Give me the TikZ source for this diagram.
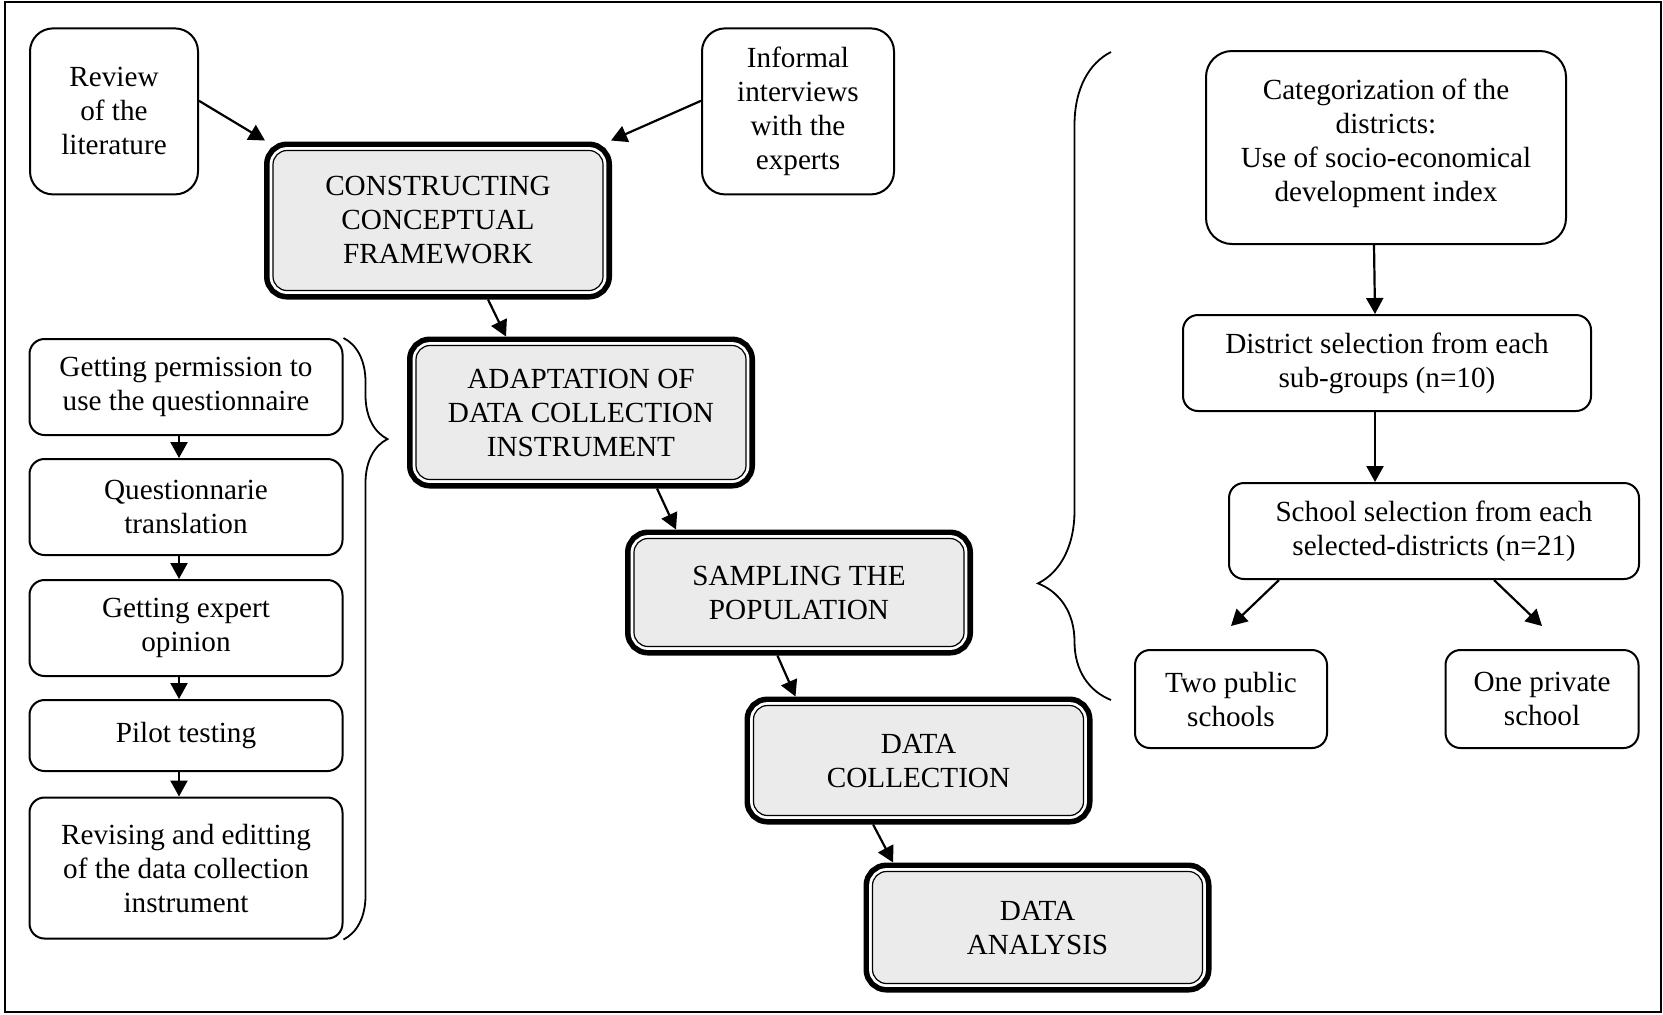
\documentclass[tikz,border=0pt]{standalone}
\usepackage{fontspec}
\setmainfont{Liberation Serif}
\usepackage{tikz}
\usetikzlibrary{arrows.meta,positioning,calc,decorations.pathreplacing}

\begin{document}
\begin{tikzpicture}[x=0.5pt,y=-0.5pt,>={Triangle[length=8pt,width=8.5pt]},
 font=\fontsize{14.6}{17}\selectfont,
 box/.style={draw,line width=1pt,rounded corners=#1,align=center,inner sep=0pt},
 box/.default=7.5pt,
 stage/.style={draw,line width=0.6pt,fill=black!8,rounded corners=7pt,align=center,
  inner sep=0pt,minimum width=165pt,outer sep=4.5pt,
  preaction={draw,line width=9pt},preaction={draw=white,line width=3.4pt}},
 arr/.style={->,line width=1.1pt},
 brc/.style={decorate,line width=0.9pt}]
\useasboundingbox (0,0) rectangle (1663,1014);
\draw[line width=1pt] (5,2) rectangle (1661,1012);
% inputs and main stages
\node[box=11.5pt,minimum width=84pt,minimum height=83pt] (review) at (114,111.4) {Review\\ of the\\ literature};
\node[box=11.5pt,minimum width=96pt,minimum height=83pt] (informal) at (798,111.4) {Informal\\ interviews\\ with the\\ experts};
\node[stage,minimum height=70pt] (construct) at (438,220.5) {CONSTRUCTING\\ CONCEPTUAL\\ FRAMEWORK};
\node[stage,minimum height=67pt] (adapt) at (581,412.5) {ADAPTATION OF\\ DATA COLLECTION\\ INSTRUMENT};
\node[stage,minimum height=54pt] (sampling) at (799,592.5) {SAMPLING THE\\ POPULATION};
\node[stage,minimum height=55pt] (collect) at (918.5,760.5) {DATA\\ COLLECTION};
\node[stage,minimum height=56pt] (analysis) at (1037.5,927.5) {DATA\\ ANALYSIS};
% adaptation steps
\node[box,minimum width=156.5pt,minimum height=48pt] (perm) at (186,387) {Getting permission to\\ use the questionnaire};
\node[box,minimum width=156.5pt,minimum height=48pt] (transl) at (186,507) {Questionnarie\\ translation};
\node[box,minimum width=156.5pt,minimum height=48pt] (expert) at (186,628) {Getting expert\\ opinion};
\node[box,minimum width=156.5pt,minimum height=35.5pt] (pilot) at (186,735.5) {Pilot testing};
\node[box,minimum width=156.5pt,minimum height=70.5pt] (revise) at (186,868) {Revising and editting\\ of the data collection\\ instrument};
% sampling steps
\node[box=13pt,minimum width=180pt,minimum height=96.5pt] (categ) at (1386,147.5) {Categorization of the\\ districts:\\ Use of socio-economical\\ development index\\[-10pt]};
\node[box,minimum width=204pt,minimum height=48pt] (dist) at (1387,363) {District selection from each\\ sub-groups (n=10)};
\node[box,minimum width=205pt,minimum height=48pt] (school) at (1434,531) {School selection from each\\ selected-districts (n=21)};
\node[box,minimum width=96pt,minimum height=49pt] (twopub) at (1231,699) {Two public\\ schools};
\node[box,minimum width=96.5pt,minimum height=49pt] (onepriv) at (1542,699) {One private\\ school};
% connectors
\draw[arr] ([yshift=5.3pt]review.east) -- ([shift={(0.5pt,0.5pt)}]construct.north west);
\draw[arr] ([yshift=5.3pt]informal.west) -- ([shift={(-0.5pt,0.5pt)}]construct.north east);
\draw[arr] ([xshift=25pt]construct.south) -- ([xshift=-37.5pt]adapt.north);
\draw[arr] ([xshift=38pt]adapt.south) -- ([xshift=-61.5pt]sampling.north);
\draw[arr] ([xshift=-10.8pt]sampling.south) -- ([xshift=-61.5pt]collect.north);
\draw[arr] ([xshift=-22.7pt]collect.south) -- ([xshift=-72.2pt]analysis.north);
\foreach \a/\b in {perm/transl,transl/expert,expert/pilot,pilot/revise}
 \draw[arr] ([xshift=-3.5pt]\a.south) -- ([xshift=-3.5pt]\b.north);
\draw[arr] ([xshift=-6pt]categ.south) -- ([xshift=-6pt]dist.north);
\draw[arr] ([xshift=-6pt]dist.south) -- ([xshift=-29.5pt]school.north);
\draw[arr] ([xshift=-77.5pt]school.south) -- ([yshift=11.5pt]twopub.north);
\draw[arr] ([xshift=30pt]school.south) -- ([yshift=11.5pt]onepriv.north);
% braces
\draw[brc,decoration={brace,amplitude=22pt,aspect=0.168}] (perm.north east) -- (revise.south east);
\draw[brc,decoration={brace,amplitude=36.5pt,aspect=0.18}] (1111,700) -- (1111,52);
\end{tikzpicture}
\end{document}
